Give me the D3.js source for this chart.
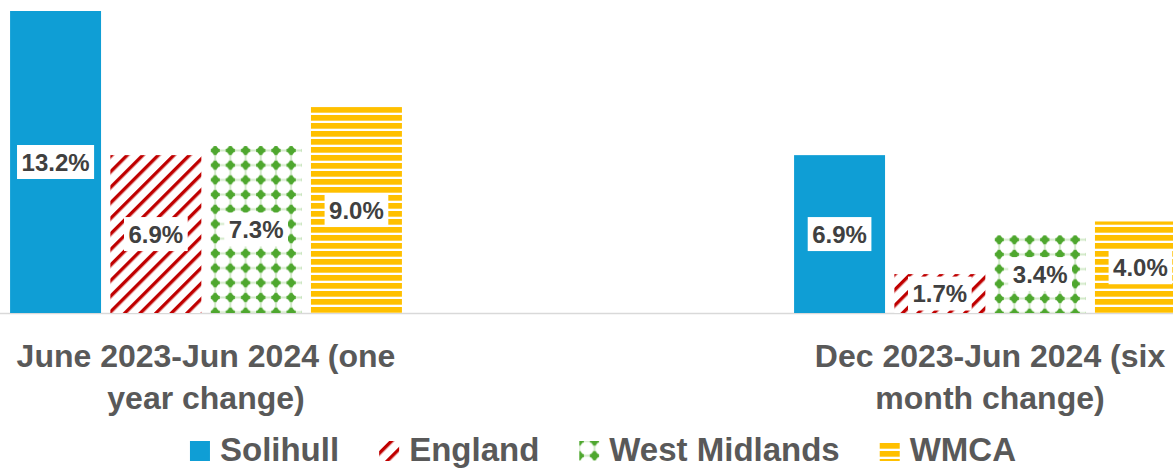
<!DOCTYPE html>
<html>
<head>
<meta charset="utf-8">
<script src="https://cdn.jsdelivr.net/npm/d3@7"></script>
<style>
  html, body { margin: 0; padding: 0; background: #fff; overflow: hidden; }
  svg { display: block; font-family: "Liberation Sans", Arial, sans-serif; }
</style>
</head>
<body>
<main></main>
<script>
// chart data
const categories = ["June 2023-Jun 2024 (one year change)", "Dec 2023-Jun 2024 (six month change)"]
const categoryLines = [["June 2023-Jun 2024 (one", "year change)"], ["Dec 2023-Jun 2024 (six", "month change)"]]
const seriesNames = ["Solihull", "England", "West Midlands", "WMCA"]
const solihull = [13.2, 6.9]
const england = [6.9, 1.7]
const westMidlands = [7.3, 3.4]
const wmca = [9.0, 4.0]
const seriesValues = [solihull, england, westMidlands, wmca]

const w = 1173
const h = 468
const baseY = 313

const svg = d3.select("main").append("svg").attr("width", w).attr("height", h)
const defs = svg.append("defs")

// scales
const x0 = d3.scaleBand().domain(categories).range([-186, 1382]).padding(0)
const x1 = d3.scaleBand().domain(seriesNames).range([0, x0.bandwidth()])
  .paddingInner(0.093).paddingOuter(1.955)
const y = d3.scaleLinear().domain([0, 13.2]).range([baseY, 11])

// patterns
defs.append("pattern").attr("id", "p-solihull")
  .attr("patternUnits", "userSpaceOnUse").attr("width", 4).attr("height", 4)
  .append("rect").attr("width", 4).attr("height", 4).attr("fill", "#0F9ED5")

const pEng = defs.append("pattern").attr("id", "p-england")
  .attr("patternUnits", "userSpaceOnUse").attr("width", 11).attr("height", 11)
  .attr("patternTransform", "rotate(45)")
pEng.append("rect").attr("width", 11).attr("height", 11).attr("fill", "#fff")
pEng.append("rect").attr("x", 0).attr("width", 3.4).attr("height", 11).attr("fill", "#C00000")

// green dotted grid, one per anchor so dots start near the bar's corner
const makeWm = (id, ox, oy) => {
  const tw = 15.2, th = 14.7
  const p = defs.append("pattern").attr("id", id)
    .attr("patternUnits", "userSpaceOnUse").attr("width", tw).attr("height", th)
    .attr("x", ox - tw / 2).attr("y", oy - th / 2)
  p.append("rect").attr("width", tw).attr("height", th).attr("fill", "#fff")
  p.append("rect").attr("x", 0).attr("y", th / 2 - 1).attr("width", tw).attr("height", 2).attr("fill", "#D3EACA")
  p.append("rect").attr("x", tw / 2 - 1).attr("y", 0).attr("width", 2).attr("height", th).attr("fill", "#D3EACA")
  p.append("circle").attr("cx", tw / 2).attr("cy", th / 2).attr("r", 3.6).attr("fill", "#4EA72E")
  p.append("rect").attr("x", tw / 2 - 4.6).attr("y", th / 2 - 1.6).attr("width", 9.2).attr("height", 3.2).attr("fill", "#4EA72E")
  p.append("rect").attr("x", tw / 2 - 1.6).attr("y", th / 2 - 4.6).attr("width", 3.2).attr("height", 9.2).attr("fill", "#4EA72E")
}

const pWmca = defs.append("pattern").attr("id", "p-wmca")
  .attr("patternUnits", "userSpaceOnUse").attr("width", 8).attr("height", 8)
  .attr("y", 3)
pWmca.append("rect").attr("width", 8).attr("height", 8).attr("fill", "#fff")
pWmca.append("rect").attr("y", 0).attr("width", 8).attr("height", 5.7).attr("fill", "#FFC000")

const rows = []
categories.forEach((c, ci) => {
  seriesNames.forEach((s, si) => {
    rows.push({ cat: c, ci: ci, name: s, si: si, value: seriesValues[si][ci] })
  })
})

const barFill = (d) => {
  if (d.si === 0) return "url(#p-solihull)"
  if (d.si === 1) return "url(#p-england)"
  if (d.si === 3) return "url(#p-wmca)"
  const id = "p-wm-" + d.ci
  makeWm(id, x0(d.cat) + x1(d.name) + 4.5, y(d.value) + 4.5)
  return `url(#${id})`
}

// baseline
svg.append("line")
  .attr("x1", 0).attr("x2", w)
  .attr("y1", baseY + 0.5).attr("y2", baseY + 0.5)
  .attr("stroke", "#D9D9D9").attr("stroke-width", 1.5)

svg.append("g").selectAll("rect")
  .data(rows)
  .enter()
  .append("rect")
  .attr("x", (d) => x0(d.cat) + x1(d.name))
  .attr("y", (d) => y(d.value))
  .attr("width", x1.bandwidth())
  .attr("height", (d) => baseY - y(d.value))
  .attr("fill", barFill)

// data labels
const labels = svg.append("g").selectAll("g")
  .data(rows)
  .enter()
  .append("g")
  .attr("transform", (d) => {
    const cx = x0(d.cat) + x1(d.name) + x1.bandwidth() / 2
    const cy = (y(d.value) + baseY) / 2
    return `translate(${cx}, ${cy})`
  })

labels.append("rect").attr("fill", "#fff")
labels.append("text")
  .attr("text-anchor", "middle")
  .attr("y", 8.5)
  .attr("font-size", "24px")
  .attr("font-weight", "bold")
  .attr("fill", "#404040")
  .text((d) => d.value.toFixed(1) + "%")

labels.each(function () {
  const g = d3.select(this)
  const tw = g.select("text").node().getComputedTextLength()
  g.select("rect")
    .attr("x", -tw / 2 - 4.5).attr("y", -17)
    .attr("width", tw + 9).attr("height", 34)
})

// category labels
const catText = svg.append("g").selectAll("text")
  .data(categories)
  .enter()
  .append("text")
  .attr("text-anchor", "middle")
  .attr("font-size", "32px")
  .attr("font-weight", "bold")
  .attr("fill", "#595959")

catText.selectAll("tspan")
  .data((d, i) => categoryLines[i].map((t) => ({ t: t, x: x0(d) + x0.bandwidth() / 2 })))
  .enter()
  .append("tspan")
  .attr("x", (d) => d.x)
  .attr("y", (d, i) => 367 + i * 42)
  .text((d) => d.t)

// legend
const legendFills = ["url(#p-solihull)", "url(#p-england)", "url(#p-wm-legend)", "url(#p-wmca)"]
const legend = svg.append("g").attr("id", "legend")
let lx = 0
seriesNames.forEach((s, i) => {
  const item = legend.append("g").attr("transform", `translate(${lx}, 0)`)
  if (i === 2) makeWm("p-wm-legend", 0, 0)
  item.append("rect")
    .attr("x", 0).attr("y", 441)
    .attr("width", 20).attr("height", 20)
    .attr("fill", legendFills[i])
  const t = item.append("text")
    .attr("x", 30).attr("y", 461)
    .attr("font-size", "33px")
    .attr("font-weight", "bold")
    .attr("fill", "#595959")
    .text(s)
  lx += 30 + t.node().getComputedTextLength() + 40
})
const legendWidth = lx - 40
legend.attr("transform", `translate(${603 - legendWidth / 2}, 0)`)
</script>
</body>
</html>
